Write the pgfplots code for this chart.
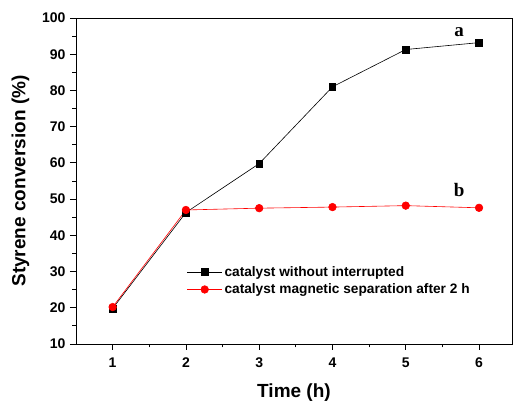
\documentclass[border=0pt]{standalone}
\usepackage{pgfplots}
\pgfplotsset{compat=1.18}
\usepackage{fontspec}
\setmainfont{Liberation Sans}
\newfontfamily\serifbold{Liberation Serif}
\begin{document}
\begin{tikzpicture}[x=1pt,y=1pt]
% overall canvas
\path (-76,-56) rectangle (437,18+326);
\begin{axis}[
  at={(0,0)}, anchor=south west,
  scale only axis, width=436pt, height=326pt,
  xmin=0.5, xmax=6.45, ymin=10, ymax=100,
  xtick={1,2,3,4,5,6}, ytick={10,20,...,100},
  minor x tick num=1, minor y tick num=1,
  tick pos=left, tick align=outside,
  major tick length=6pt, minor tick length=3.5pt,
  every tick/.style={black, line width=0.8pt},
  axis line style={line width=0.8pt},
  /pgf/number format/assume math mode=true,
  tick label style={font=\fontsize{14}{16}\selectfont\bfseries},
  xticklabel style={yshift=-4pt},
  yticklabel style={xshift=-1pt},
  xlabel={Time (h)}, ylabel={Styrene conversion (\%)},
  label style={font=\fontsize{19}{22}\selectfont\bfseries},
  xlabel style={yshift=-9pt},
  ylabel style={yshift=6pt},
  legend style={draw=none, fill=none, at={(axis cs:1.97,32.6)}, anchor=north west,
    font=\fontsize{13.7}{16}\selectfont\bfseries, row sep=2pt,
    legend cell align=left},
  legend image code/.code={
    \draw[#1] (0pt,0pt) -- (35pt,0pt);
    \draw[#1, only marks] plot coordinates {(17.5pt,0pt)};
  },
]
\addplot[black, line width=0.6pt, mark=square*, mark size=3.3pt, mark options={solid}]
  coordinates {(1,19.8) (2,46.3) (3,59.8) (4,81.0) (5,91.3) (6,93.2)};
\addlegendentry{catalyst without interrupted}
\addplot[red, line width=0.6pt, mark=*, mark size=3.8pt, mark options={solid}]
  coordinates {(1,20.2) (2,47.0) (3,47.5) (4,47.8) (5,48.2) (6,47.6)};
\addlegendentry{catalyst magnetic separation after 2 h}
\node[font=\fontsize{19}{21}\selectfont\serifbold\bfseries] at (axis cs:5.73,96.2) {a};
\node[font=\fontsize{19}{21}\selectfont\serifbold\bfseries] at (axis cs:5.73,52.6) {b};
\end{axis}
\end{tikzpicture}
\end{document}
